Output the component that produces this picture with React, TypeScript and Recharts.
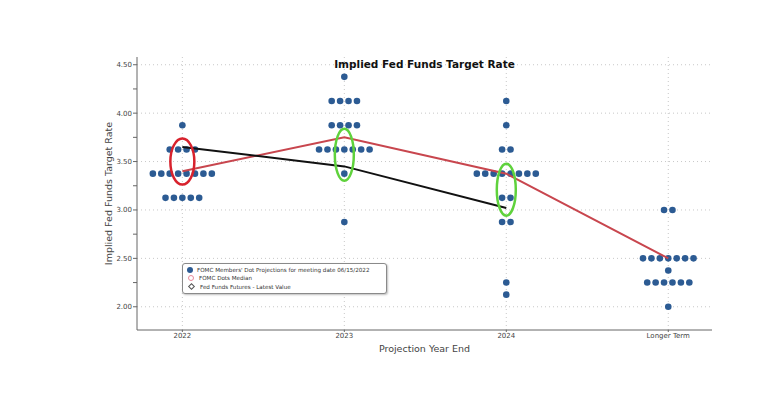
import { ComposedChart, Scatter, XAxis, YAxis, CartesianGrid, ReferenceDot } from 'recharts';

// categories + dot plot rows: [rate, number of participants]
const years = ['2022', '2023', '2024', 'Longer Term'];
const dots2022 = [[3.875, 1], [3.625, 4], [3.375, 8], [3.125, 5]];
const dots2023 = [[4.375, 1], [4.125, 4], [3.875, 4], [3.625, 7], [3.375, 1], [2.875, 1]];
const dots2024 = [[4.125, 1], [3.875, 1], [3.625, 2], [3.375, 8], [3.125, 2], [2.875, 2], [2.25, 1], [2.125, 1]];
const dotsLonger = [[3.0, 2], [2.5, 7], [2.375, 1], [2.25, 6], [2.0, 1]];
const medians = [3.4, 3.75, 3.375, 2.5];
const futures = [3.65, 3.45, 3.02];
const yTicks = [2, 2.25, 2.5, 2.75, 3, 3.25, 3.5, 3.75, 4, 4.25, 4.5];
const yMajor = [2, 2.5, 3, 3.5, 4, 4.5];
// highlighted ellipses: [category index, center rate]
const redRings = [[0, 3.5]];
const greenRings = [[1, 3.57], [2, 3.21]];

const DOT_STEP = 0.052;
const BLUE = '#2c5b93';
const RED = '#c8464e';
const FONT = '"DejaVu Sans", Verdana, sans-serif';

const dotData = [dots2022, dots2023, dots2024, dotsLonger].flatMap((rows, i) =>
  rows.flatMap(([rate, n]) =>
    Array.from({ length: n }, (_, k) => ({ x: i + (k - (n - 1) / 2) * DOT_STEP, y: rate }))
  )
);
const medianData = medians.map((v, i) => ({ x: i, y: v }));
const futuresData = futures.map((v, i) => ({ x: i, y: v }));

const noShape = () => <g />;

function LegendBox() {
  const row = { display: 'flex', alignItems: 'center', height: 8.3 };
  return (
    <div
      style={{
        position: 'absolute',
        left: 182,
        top: 263,
        border: '1px solid #8a8a8a',
        borderRadius: 3,
        background: '#fff',
        boxShadow: '1px 1px 2px rgba(0,0,0,0.25)',
        padding: '2px 4px',
        fontFamily: FONT,
        fontSize: 5.6,
        color: '#333',
        width: 195,
      }}
    >
      <div style={row}>
        <span style={{ width: 6, height: 6, borderRadius: 3, background: BLUE, marginRight: 4 }} />
        FOMC Members' Dot Projections for meeting date 06/15/2022
      </div>
      <div style={row}>
        <span style={{ width: 4, height: 4, borderRadius: 3, border: '1px solid #e88a9a', margin: '0 5px 0 1px' }} />
        FOMC Dots Median
      </div>
      <div style={row}>
        <span style={{ width: 3, height: 3, border: '1px solid #555', transform: 'rotate(45deg)', margin: '0 6px 0 2px' }} />
        Fed Funds Futures - Latest Value
      </div>
    </div>
  );
}

export default function App() {
  return (
    <div style={{ position: 'fixed', left: 0, top: 0, width: 761, height: 393, background: '#fff' }}>
      <ComposedChart width={761} height={393} margin={{ top: 57, right: 49, bottom: 33, left: 86 }}>
        <CartesianGrid
          stroke="#c8c8c8"
          strokeDasharray="1 3"
          horizontalValues={yMajor}
          verticalValues={[0, 1, 2, 3]}
        />
        <XAxis
          type="number"
          dataKey="x"
          domain={[-0.28, 3.27]}
          ticks={[0, 1, 2, 3]}
          tickFormatter={(v) => years[v] ?? ''}
          height={30}
          stroke="#666"
          tickSize={2}
          tickMargin={1}
          tick={{ fontSize: 7, fill: '#444', fontFamily: FONT }}
          allowDataOverflow
          label={{
            value: 'Projection Year End',
            position: 'insideBottom',
            offset: 8,
            style: { fontSize: 9.5, fill: '#444', fontFamily: FONT },
          }}
        />
        <YAxis
          type="number"
          dataKey="y"
          domain={[1.76, 4.58]}
          ticks={yTicks}
          tickFormatter={(v) => (yMajor.includes(v) ? v.toFixed(2) : '')}
          width={51}
          stroke="#666"
          tickSize={4}
          tickMargin={1}
          tick={{ fontSize: 7, fill: '#444', fontFamily: FONT }}
          allowDataOverflow
          label={{
            value: 'Implied Fed Funds Target Rate',
            angle: -90,
            position: 'insideLeft',
            dx: 18,
            style: { textAnchor: 'middle', fontSize: 9.5, fill: '#444', fontFamily: FONT },
          }}
        />
        <Scatter data={dotData} fill={BLUE} isAnimationActive={false} shape={(p: any) => <circle cx={p.cx} cy={p.cy} r={3.3} fill={BLUE} />} />
        <Scatter data={medianData} line={{ stroke: RED, strokeWidth: 2 }} shape={noShape} isAnimationActive={false} />
        <Scatter data={futuresData} line={{ stroke: '#111', strokeWidth: 2 }} shape={noShape} isAnimationActive={false} />
        {redRings.map(([x, y], i) => (
          <ReferenceDot
            key={`r${i}`}
            x={x}
            y={y}
            shape={(p: any) => <ellipse cx={p.cx} cy={p.cy} rx={12} ry={23} fill="none" stroke="#d8222d" strokeWidth={2.5} />}
          />
        ))}
        {greenRings.map(([x, y], i) => (
          <ReferenceDot
            key={`g${i}`}
            x={x}
            y={y}
            shape={(p: any) => <ellipse cx={p.cx} cy={p.cy} rx={9.5} ry={26} fill="none" stroke="#5fd23c" strokeWidth={2.5} />}
          />
        ))}
      </ComposedChart>
      <LegendBox />
      <div
        style={{
          position: 'absolute',
          left: 137,
          width: 575,
          top: 58,
          textAlign: 'center',
          fontFamily: FONT,
          fontWeight: 'bold',
          fontSize: 10.5,
          color: '#111',
        }}
      >
        Implied Fed Funds Target Rate
      </div>
    </div>
  );
}
